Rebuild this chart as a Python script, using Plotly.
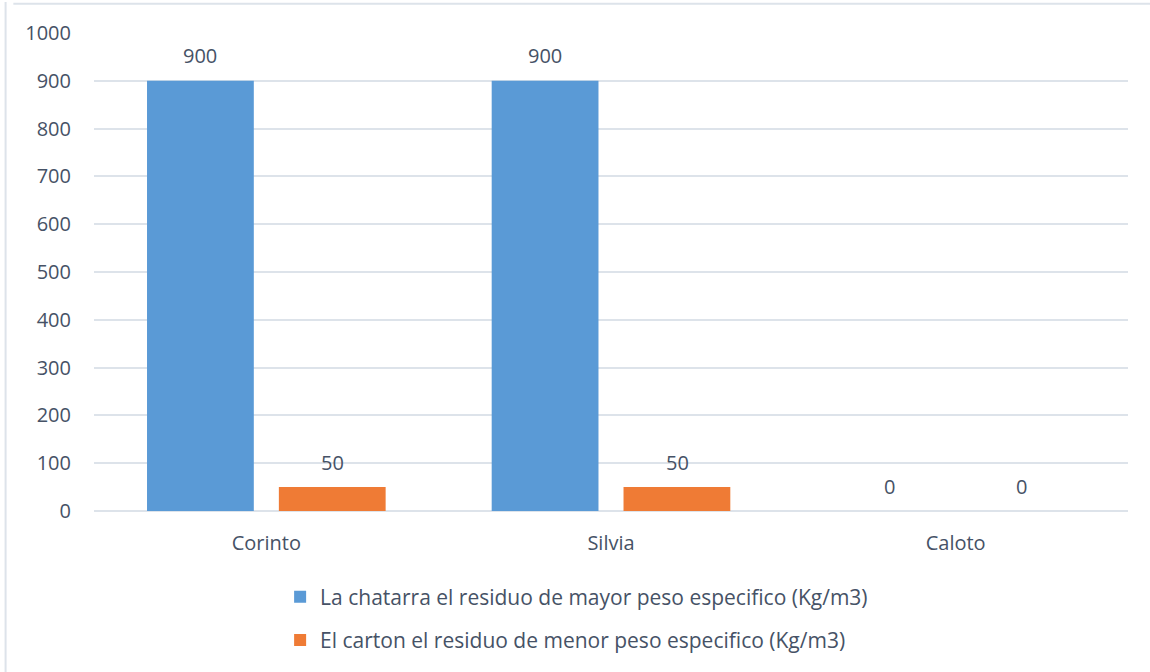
import plotly.graph_objects as go

categories = ["Corinto", "Silvia", "Caloto"]
chatarra = [900, 900, 0]
carton = [50, 50, 0]
series_names = [
    "La chatarra el residuo de mayor peso especifico (Kg/m3)",
    "El carton el residuo de menor peso especifico (Kg/m3)",
]
y_ticks = [0, 100, 200, 300, 400, 500, 600, 700, 800, 900, 1000]

FONT = "Open Sans, Liberation Sans, sans-serif"
TXT = "#465266"
FS = 20

fig = go.Figure()
fig.add_trace(go.Bar(
    x=categories, y=chatarra, name=series_names[0], legendgroup="a",
    marker=dict(color="#5A9AD6", line=dict(width=0)),
))
fig.add_trace(go.Bar(
    x=categories, y=carton, name=series_names[1], legendgroup="b",
    marker=dict(color="#EF7B35", line=dict(width=0)),
))

annotations = []
for series, shift in ((chatarra, -66), (carton, 66)):
    for cat, v in zip(categories, series):
        annotations.append(dict(
            x=cat, y=v, xref="x", yref="y", text=str(v), showarrow=False,
            xshift=shift, yshift=25, yanchor="middle",
            font=dict(size=FS, color=TXT, family=FONT),
        ))

fig.update_layout(
    width=1150, height=672,
    margin=dict(l=94, r=22, t=33, b=160),
    paper_bgcolor="white", plot_bgcolor="white",
    barmode="group", bargap=0.235, bargroupgap=0.19,
    font=dict(family=FONT, size=FS, color=TXT),
    showlegend=True,
    legend=dict(
        orientation="v", x=0.18, xanchor="left", y=-0.135, yanchor="top",
        font=dict(size=21, color=TXT, family=FONT),
        itemwidth=30, tracegroupgap=13,
    ),
    xaxis=dict(
        showgrid=False, showline=False, ticks="",
        tickfont=dict(size=FS, color=TXT), ticklabelstandoff=18,
    ),
    yaxis=dict(
        range=[0, 1000], tickvals=y_ticks, showgrid=True,
        gridcolor="#DDE3EA", gridwidth=2, zeroline=True, zerolinecolor="#DDE3EA",
        zerolinewidth=2, showline=False, ticks="",
        tickfont=dict(size=FS, color=TXT), ticklabelstandoff=22,
    ),
    annotations=annotations,
    shapes=[
        dict(type="line", xref="paper", yref="paper", x0=-0.078, x1=1.05, y0=1.061, y1=1.061,
             line=dict(color="#DDE3EA", width=2)),
        dict(type="line", xref="paper", yref="paper", x0=-0.0855, x1=-0.0855, y0=-0.4, y1=1.065,
             line=dict(color="#DDE3EA", width=2)),
    ],
)

fig.write_html("out.html")
